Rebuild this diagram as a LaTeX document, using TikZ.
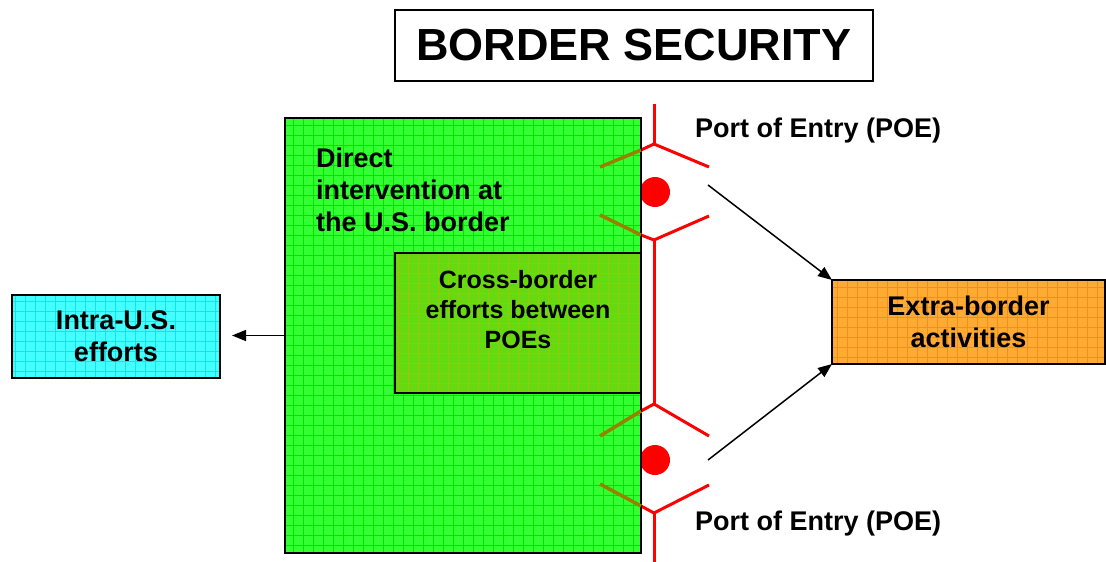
\documentclass[tikz,border=0pt]{standalone}
\usepackage{fontspec}
\setmainfont{Liberation Sans}
\usetikzlibrary{arrows.meta}
\definecolor{gfill}{RGB}{51,255,51}
\definecolor{ggrid}{RGB}{0,228,0}
\definecolor{cfill}{RGB}{102,218,17}
\definecolor{cgrid}{RGB}{160,196,10}
\definecolor{bfill}{RGB}{68,255,255}
\definecolor{bgrid}{RGB}{20,228,228}
\definecolor{ofill}{RGB}{255,170,51}
\definecolor{ogrid}{RGB}{242,145,25}
\definecolor{poered}{RGB}{255,0,0}
\definecolor{olivearm}{RGB}{150,130,0}
\tikzset{
  gridbox/.style 2 args={draw=black, line width=1.6pt, fill=#1, rectangle, inner sep=0pt, outer sep=0pt,
    path picture={\draw[#2, line width=1pt] ([shift={(-20pt,-20pt)}]path picture bounding box.south west) grid[step=10pt] ([shift={(20pt,20pt)}]path picture bounding box.north east);}},
  lbl/.style={font=\fontsize{27}{32}\selectfont\bfseries, align=center, inner sep=0pt},
  arr/.style={line width=1.5pt, -{Triangle[length=14pt,width=11pt]}},
  redln/.style={poered, line width=3pt},
  oliveln/.style={olivearm, line width=3.5pt},
}
\begin{document}
\begin{tikzpicture}[x=1pt,y=-1pt]
\useasboundingbox (0,0) rectangle (1106,562);
% title
\node[draw=black, line width=1.5pt, minimum width=478pt, minimum height=71pt, inner sep=0pt,
  font=\fontsize{45}{54}\selectfont\bfseries] (title) at (634,45.5) {BORDER SECURITY};
% red border line, broken at the two POEs
\coordinate (rtop) at (654,104);
\coordinate (rbot) at (654,562);
\coordinate (p1a) at (654,144);
\coordinate (p1b) at (654,240);
\coordinate (p2a) at (654,404);
\coordinate (p2b) at (654,513);
\draw[redln] (rtop) -- (p1a);
\draw[redln] (p1b) -- (p2a);
\draw[redln] (p2b) -- (rbot);
% top POE
\draw[redln] (709,167) -- (p1a) -- (641,150);
\draw[redln] (709,216) -- (p1b) -- (641,235);
\node[circle, fill=poered, minimum size=30pt, inner sep=0pt] (dot1) at (655,192) {};
% bottom POE
\draw[redln] (709,436) -- (p2a) -- (641,411);
\draw[redln] (709,485) -- (p2b) -- (641,506);
\node[circle, fill=poered, minimum size=30pt, inner sep=0pt] (dot2) at (655,460) {};
% main green box
\node[gridbox={gfill}{ggrid}, minimum width=356pt, minimum height=435pt] (green) at (463,335.5) {};
\node[gridbox={cfill}{cgrid}, minimum width=246pt, minimum height=140pt] (cross) at (518,323) {};
% olive arm segments inside green box
\draw[oliveln] (641,150) -- (600,167);
\draw[oliveln] (641,235) -- (600,215);
\draw[oliveln] (641,411) -- (600,436);
\draw[oliveln] (641,506) -- (600,484);
\node[lbl, align=left, anchor=west] (direct) at (316,190) {Direct\\intervention at\\the U.S. border};
\node[lbl, font=\fontsize{25}{30}\selectfont\bfseries] (crosst) at (518,310) {Cross-border\\efforts between\\POEs};
% side boxes
\node[gridbox={bfill}{bgrid}, minimum width=208pt, minimum height=83pt, lbl] (intra) at (116,336.5) {Intra-U.S.\\efforts};
\node[gridbox={ofill}{ogrid}, minimum width=273pt, minimum height=84pt, lbl] (extra) at (968.5,322) {Extra-border\\activities};
% POE labels
\node[lbl, anchor=west] (poe1) at (695,131) {Port of Entry (POE)};
\node[lbl, anchor=west] (poe2) at (695,524) {Port of Entry (POE)};
% arrows
\draw[arr, shorten >=12pt] (green.west) -- (intra.east |- green.west);
\coordinate (s1) at (708,185);
\coordinate (s2) at (708,460);
\draw[arr] (s1) -- (extra.north west);
\draw[arr] (s2) -- (extra.south west);
\end{tikzpicture}
\end{document}
